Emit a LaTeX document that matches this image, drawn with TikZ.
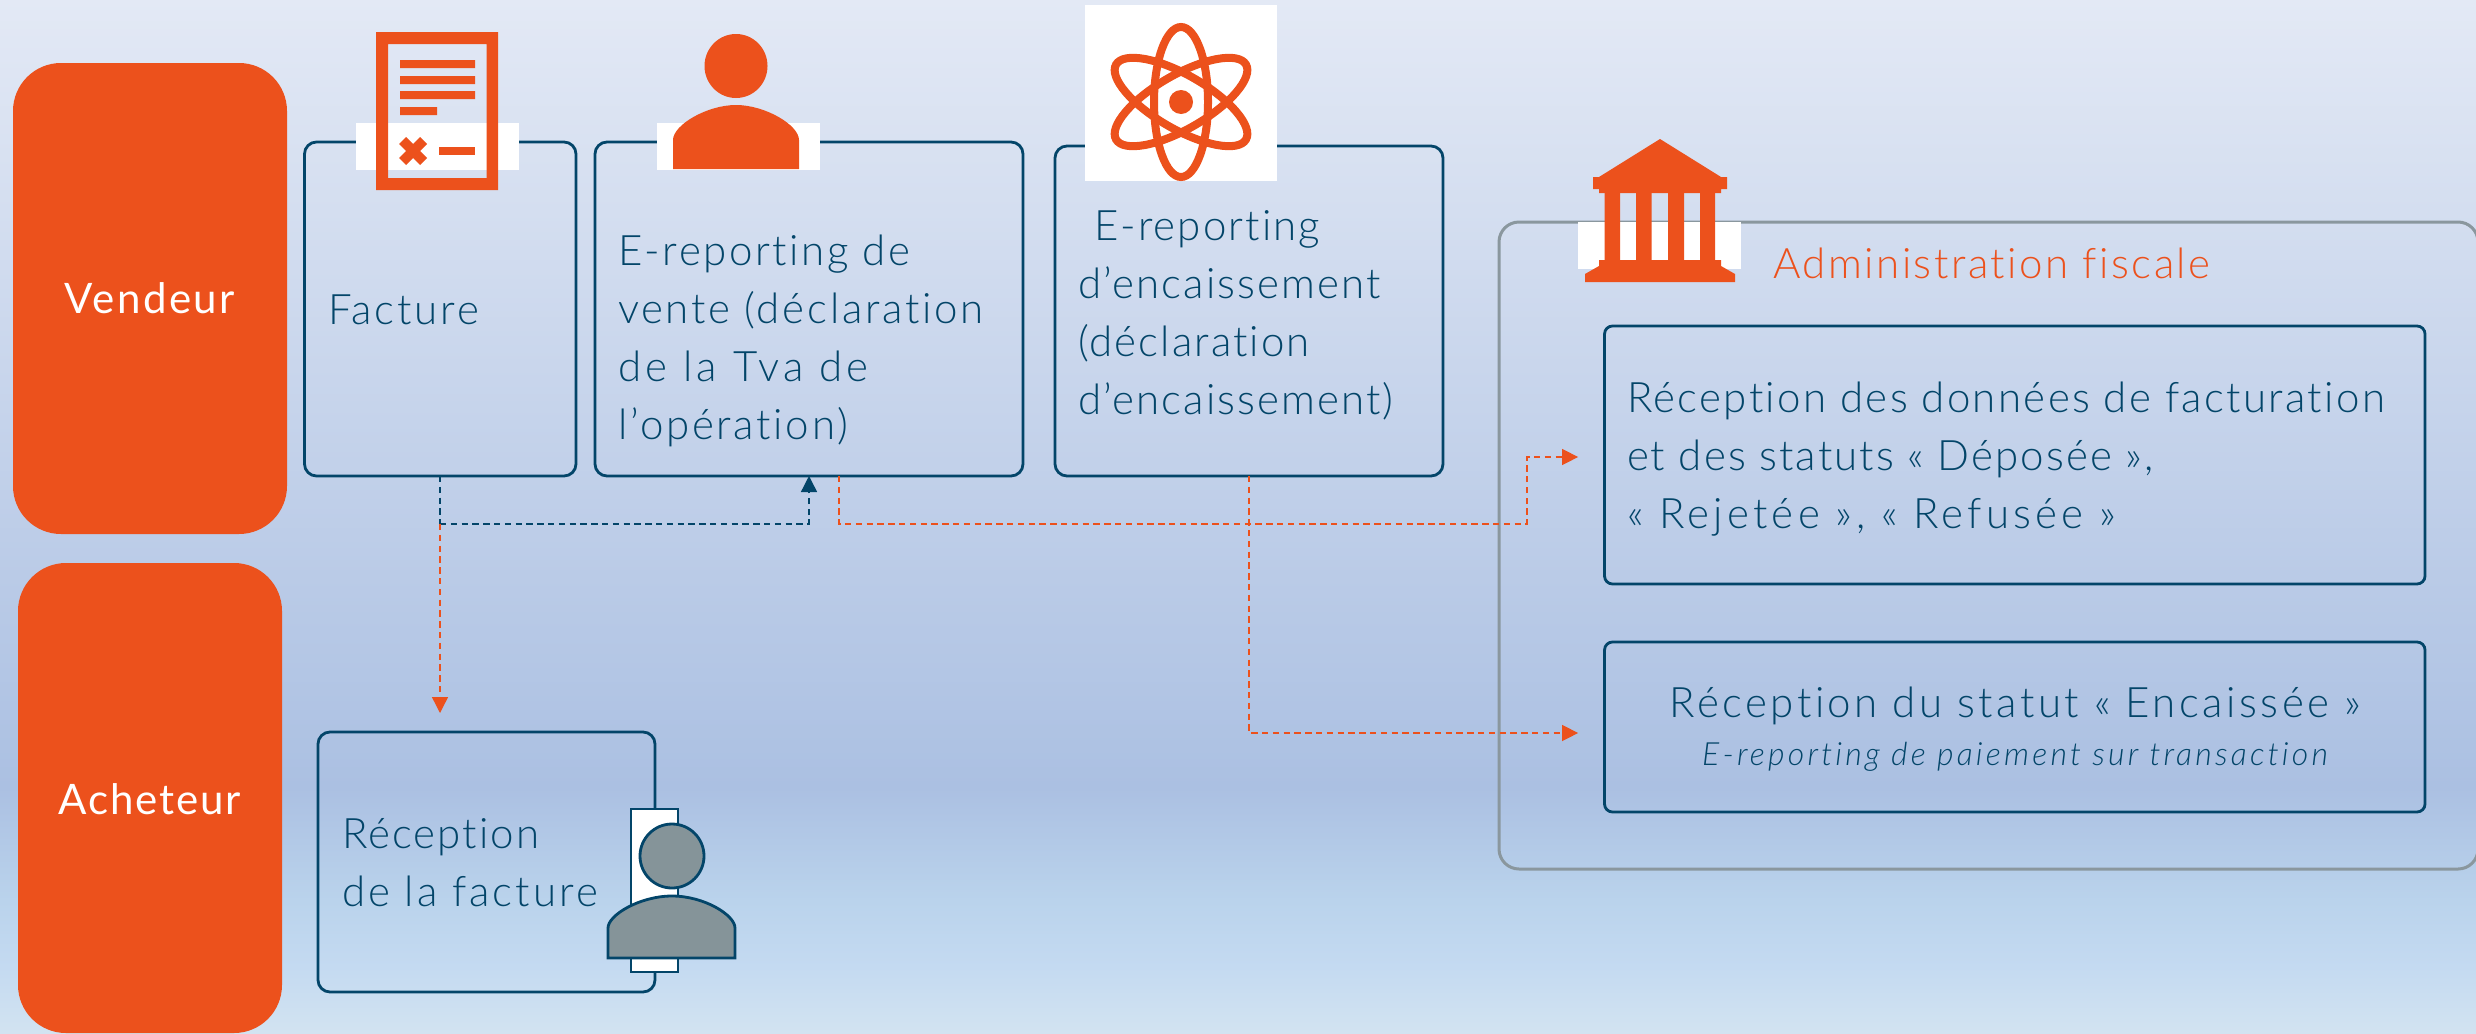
\documentclass[tikz,border=0pt]{standalone}
\usepackage{fontspec}
\usetikzlibrary{arrows.meta}
\setmainfont[LetterSpace=6,Ligatures=NoCommon]{Lato Light}
\newfontfamily\lsfive[LetterSpace=5,Ligatures=NoCommon]{Lato Light}
\newfontfamily\lseight[LetterSpace=8.3,Ligatures=NoCommon]{Lato Light}
\newfontfamily\lsnine[LetterSpace=10,Ligatures=NoCommon]{Lato Light}
\newcommand{\LS}[2]{{\addfontfeature{LetterSpace=#1}#2}}
\newfontfamily\lblfont[LetterSpace=6]{Lato}
\newfontfamily\lblfontb[LetterSpace=4.5]{Lato}
\definecolor{orng}{HTML}{EC511C}
\definecolor{navy}{HTML}{034569}
\definecolor{greyline}{HTML}{8A979E}
\definecolor{personfill}{HTML}{859499}
\definecolor{bgA}{HTML}{E3E9F5}
\definecolor{bgB}{HTML}{ABC0E2}
\definecolor{bgC}{HTML}{BAD3EC}
\definecolor{bgD}{HTML}{C4DAF1}
\definecolor{bgE}{HTML}{D2E3F1}
\pgfdeclareverticalshading{bgshade}{100bp}{color(0bp)=(bgE); color(25bp)=(bgE); color(28.2bp)=(bgD); color(31.4bp)=(bgC); color(36.9bp)=(bgB); color(75bp)=(bgA); color(100bp)=(bgA)}
\newcommand{\BX}[6]{\node[#1,minimum width={(#5-#3)*0.5pt},minimum height={(#6-#4)*0.5pt}] (#2) at ({(#3+#5)/2},{(#4+#6)/2}) {};}
\tikzset{
  x=0.5pt,y=-0.5pt,
  actor/.style={fill=orng,rounded corners=24pt,inner sep=0pt,outer sep=0pt},
  panel/.style={draw=navy,line width=1.4pt,rounded corners=6pt,inner sep=0pt,outer sep=0pt},
  tight/.style={draw=navy,line width=1.4pt,rounded corners=4pt,inner sep=0pt,outer sep=0pt},
  admin/.style={draw=greyline,line width=1.5pt,rounded corners=10pt,inner sep=0pt,outer sep=0pt},
  txt/.style={text=navy,inner sep=0pt,outer sep=0pt,align=left,anchor=west,font=\fontsize{21}{29}\selectfont},
  lbl/.style={text=white,inner sep=0pt,outer sep=0pt,font=\lblfont\fontsize{21}{29}\selectfont},
  navydash/.style={draw=navy,line width=0.7pt,dash pattern=on 3.2pt off 2.2pt},
  orngdash/.style={draw=orng,line width=0.7pt,dash pattern=on 3.2pt off 2.2pt},
  navytip/.style={-{Triangle[length=8pt,width=8pt,fill=navy]}},
  orngtip/.style={-{Triangle[length=8pt,width=8pt,fill=orng]}},
}
\begin{document}
\begin{tikzpicture}
\useasboundingbox (0,0) rectangle (2476,1033);
\shade[shading=bgshade] (0,0) rectangle (2476,1033);

% actors
\BX{actor}{vendeur}{13}{63}{287}{534}
\BX{actor}{acheteur}{18}{563}{282}{1033}
\node[lbl] (vendeurT) at (150,298) {Vendeur};
\node[lbl,font=\lblfontb\fontsize{21}{29}\selectfont] (acheteurT) at (150,799) {Acheteur};

% boxes
\BX{panel}{facture}{304.5}{142}{576}{476}
\BX{panel}{vente}{595}{142}{1023}{476}
\BX{panel}{encaiss}{1055}{146}{1443}{476}
\BX{admin}{adminbox}{1499}{222}{2478}{869}
\BX{tight}{recdata}{1604.5}{326}{2425}{584}
\BX{tight}{recstat}{1604.5}{642}{2425}{812}
\BX{panel}{recep}{318}{732}{655}{992}

% junctions
\coordinate (fj) at (440,524);
\coordinate (vj) at (809,524);
\coordinate (oj) at (839,524);
\coordinate (ok) at (1527,524);
\coordinate (ol) at (1527,457);
\coordinate (ej) at (1249,733);

% connectors
\draw[navydash] (facture.south -| fj) -- (fj);
\draw[navydash,navytip] (fj) -- (vj) -- (vente.south -| vj);
\draw[orngdash,orngtip,shorten >=9.5pt] (fj) -- (recep.north -| fj);
\draw[orngdash,orngtip,shorten >=13.2pt] (vente.south -| oj) -- (oj) -- (ok) -- (ol) -- (recdata.west |- ol);
\draw[orngdash,orngtip,shorten >=13.2pt] (encaiss.south -| ej) -- (ej) -- (recstat.west |- ej);

% white patches behind icons
\fill[white] (356,123) rectangle (519,170);
\fill[white] (657,123) rectangle (820,170);
\fill[white] (1085,5) rectangle (1277,181);
\fill[white] (1578,222) rectangle (1741,269);

% document icon
\fill[orng,even odd rule] (376,32) rectangle (498,190) (388,44) rectangle (486.5,178);
\fill[orng] (400,60) rectangle (475,68) (400,76) rectangle (475,84) (400,91) rectangle (475,99) (400,107) rectangle (437,115);
\fill[orng] (439,147) rectangle (475,155);
\fill[orng] (399,144) -- (406,137) -- (413,144) -- (420,137) -- (427,144) -- (420,151) -- (427,158) -- (420,165) -- (413,158) -- (406,165) -- (399,158) -- (406,151) -- cycle;

% person icon
\fill[orng] (736,66) ellipse [x radius=31.5,y radius=32];
\fill[orng] (673,169) -- (673,140) .. controls (673,125) and (707,105) .. (736,105) .. controls (765,105) and (799,125) .. (799,140) -- (799,169) -- cycle;

% atom icon
\foreach \a in {0,60,-60}{
  \draw[orng,line width=4pt,rotate around={\a:(1181,102)}] (1181,102) ellipse [x radius=27,y radius=75];
}
\fill[orng] (1181,102) circle [radius=12];

% bank icon
\fill[orng] (1660,139) -- (1721,177) -- (1727,177) -- (1727,189) -- (1721,189) -- (1721,193) -- (1599,193) -- (1599,189) -- (1593,189) -- (1593,177) -- (1599,177) -- cycle;
\fill[orng] (1604.5,193) rectangle (1620,260) (1636,193) rectangle (1651.5,260) (1668,193) rectangle (1684,260) (1700,193) rectangle (1715,260);
\fill[orng] (1599,260) -- (1721,260) -- (1721,266) -- (1735,274) -- (1735,282) -- (1585,282) -- (1585,274) -- (1599,266) -- cycle;

% reception person
\draw[navy,line width=1.4pt,fill=white] (631,809) rectangle (678,972);
\draw[navy,line width=1.4pt,fill=personfill] (672,856) circle [radius=32];
\draw[navy,line width=1.4pt,fill=personfill] (608,958) -- (608,928) .. controls (608,915) and (640,896) .. (672,896) .. controls (704,896) and (735,915) .. (735,928) -- (735,958) -- cycle;

% texts
\node[txt] (factureT) at (328,310) {\LS{7}{Facture}};
\node[txt] (venteT) at (618,341) {E-reporting de\\\LS{6.5}{vente (déclaration}\\\LS{10.5}{de la Tva de}\\\LS{6.5}{l’opération)}};
\node[txt,font=\lsfive\fontsize{21}{29}\selectfont] (encaissT) at (1078,315) {\hspace{8pt}E-reporting\\d’encaissement\\(déclaration\\d’encaissement)};
\node[txt,text=orng,font=\lsfive\fontsize{21}{29}\selectfont] (adminT) at (1773,263) {\LS{6}{Administration fiscale}};
\node[txt,font=\lsfive\fontsize{21}{29}\selectfont] (recdataT) at (1627,459) {\LS{5.6}{Réception des données de facturation}\\et des statuts « Déposée »,\\\LS{10}{« Rejetée », « Refusée »}};
\node[txt,anchor=center,align=center,font=\lseight\fontsize{21}{29}\selectfont] (recstatT) at (2015,706) {Réception du statut « Encaissée »};
\node[txt,anchor=center,align=center,font=\lsnine\fontsize{16}{20}\selectfont\itshape] (recstatS) at (2015,757) {E-reporting de paiement sur transaction};
\node[txt] (recepT) at (342,863) {\LS{5}{Réception}\\\LS{7.5}{de la facture}};
\end{tikzpicture}
\end{document}
